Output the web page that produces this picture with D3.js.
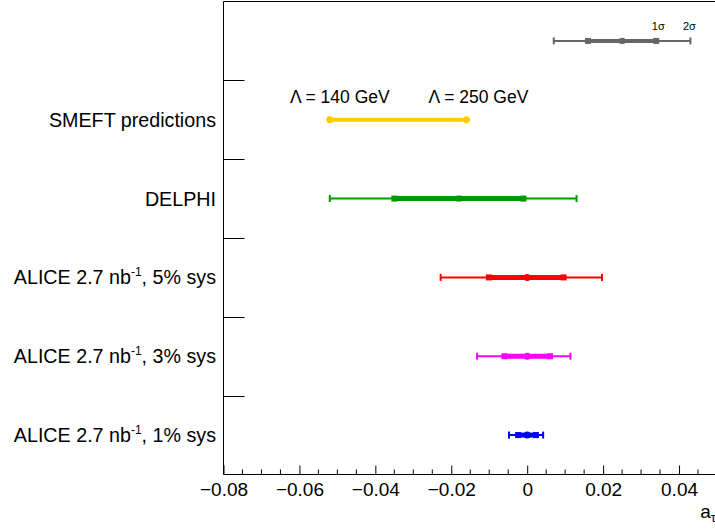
<!DOCTYPE html>
<html><head><meta charset="utf-8">
<script src="https://cdn.jsdelivr.net/npm/d3@7"></script>
<style>html,body{margin:0;padding:0;background:#fff;}svg{display:block;}svg text{font-family:"Liberation Sans",Arial,Helvetica,sans-serif;}</style>
</head><body>
<svg id="c" width="715" height="530"></svg>
<script>
// ---- data ----
const rows = ["legend", "SMEFT", "DELPHI", "ALICE5", "ALICE3", "ALICE1"];
const labelMain = ["", "SMEFT predictions", "DELPHI", "ALICE 2.7 nb", "ALICE 2.7 nb", "ALICE 2.7 nb"];
const labelSup = ["", "", "", "-1", "-1", "-1"];
const labelTail = ["", "", "", ", 5% sys", ", 3% sys", ", 1% sys"];
const central = [0.025, null, -0.018, 0.0, 0.0, 0.0];
const lo1 = [0.016, null, -0.035, -0.0101, -0.006, -0.0024];
const hi1 = [0.034, null, -0.001, 0.0096, 0.006, 0.0023];
const lo2 = [0.007, null, -0.052, -0.0228, -0.0132, -0.0048];
const hi2 = [0.043, null, 0.013, 0.0197, 0.0114, 0.0042];
const colors = ["#666666", "#ffcc00", "#009900", "#ff0000", "#ff00ff", "#0000ff"];
const smeftRange = [-0.052, -0.016];
const smeftLabels = ["\u039B = 140 GeV", "\u039B = 250 GeV"];
const legendLabels = ["1\u03C3", "2\u03C3"];
const xTicks = [-0.08, -0.06, -0.04, -0.02, 0, 0.02, 0.04];
const xTickLabels = ["\u22120.08", "\u22120.06", "\u22120.04", "\u22120.02", "0", "0.02", "0.04"];
const xTitle = "a";
const xTitleSub = "\u03C4";

// ---- layout ----
const FONT = '"Liberation Sans", Arial, Helvetica, sans-serif';
const svg = d3.select("#c");
const padL = 223.5, padB = 474.5, padT = 1.5, padR = 717;
const x = d3.scaleLinear().domain([-0.08, 0.05]).range([padL, padR]);
const y = d3.scaleBand().domain(rows).range([padT, padB]).padding(0);
const yc = r => y(r) + y.bandwidth() / 2;

// frame
svg.append("line").attr("x1", padL).attr("x2", padL).attr("y1", padT).attr("y2", padB).attr("stroke", "#000").attr("stroke-width", 1);
svg.append("line").attr("x1", padL).attr("x2", 715).attr("y1", padT).attr("y2", padT).attr("stroke", "#000").attr("stroke-width", 1);

// x axis with ticks pointing inward
const xAxis = d3.axisBottom(x).tickValues(xTicks).tickSizeInner(-9).tickSizeOuter(0)
  .tickFormat((d, i) => xTickLabels[i]);
const gx = svg.append("g").attr("transform", `translate(0,${padB})`).call(xAxis);
gx.attr("font-family", FONT).attr("font-size", 19);
gx.select(".domain").attr("stroke", "#000").attr("d", `M${padL},0H715`);
gx.selectAll(".tick line").attr("stroke", "#000");
gx.selectAll(".tick text").attr("fill", "#000").attr("dy", null).attr("y", 21);
// minor ticks
const minor = d3.range(-0.08, 0.0501, 0.005).filter(v => !xTicks.some(t => Math.abs(t - v) < 1e-9));
svg.append("g").selectAll("line").data(minor).join("line")
  .attr("x1", d => x(d)).attr("x2", d => x(d)).attr("y1", padB).attr("y2", padB - 5)
  .attr("stroke", "#000").attr("stroke-width", 1);

// x title
const tt = svg.append("text").attr("x", 716).attr("y", 518).attr("text-anchor", "end").attr("font-family", FONT).attr("font-size", 19).attr("fill", "#000");
tt.append("tspan").text(xTitle);
tt.append("tspan").attr("font-size", 13).attr("dy", 4).text(xTitleSub);

// y ticks at band boundaries
const bounds = rows.slice(1).map(r => y(r));
svg.append("g").selectAll("line").data(bounds).join("line")
  .attr("x1", padL).attr("x2", padL + 21).attr("y1", d => Math.round(d) + 0.5).attr("y2", d => Math.round(d) + 0.5)
  .attr("stroke", "#000").attr("stroke-width", 1);

// y labels
rows.forEach((r, i) => {
  if (!labelMain[i]) return;
  const t = svg.append("text").attr("x", 216).attr("y", yc(r) + 7).attr("text-anchor", "end")
    .attr("font-family", FONT).attr("font-size", 19.7).attr("fill", "#000");
  t.append("tspan").text(labelMain[i]);
  if (labelSup[i]) {
    t.append("tspan").attr("font-size", 12).attr("dy", -8).text(labelSup[i]);
    t.append("tspan").attr("dy", 8).text(labelTail[i]);
  }
});

// error bars
rows.forEach((r, i) => {
  if (central[i] === null) return;
  const cy = yc(r), col = colors[i];
  const g = svg.append("g");
  const thin = 2, thick = i === 0 ? 4 : 5, sq = 6;
  g.append("line").attr("x1", x(lo2[i])).attr("x2", x(hi2[i])).attr("y1", cy).attr("y2", cy).attr("stroke", col).attr("stroke-width", thin);
  [lo2[i], hi2[i]].forEach(v => g.append("line").attr("x1", x(v)).attr("x2", x(v)).attr("y1", cy - 3.5).attr("y2", cy + 3.5).attr("stroke", col).attr("stroke-width", 2));
  g.append("line").attr("x1", x(lo1[i])).attr("x2", x(hi1[i])).attr("y1", cy).attr("y2", cy).attr("stroke", col).attr("stroke-width", thick);
  [lo1[i], hi1[i]].forEach(v => g.append("rect").attr("x", x(v) - sq / 2).attr("y", cy - sq / 2).attr("width", sq).attr("height", sq).attr("fill", col));
  if (i === 0 || i === 2) {
    g.append("rect").attr("x", x(central[i]) - 2.5).attr("y", cy - 3).attr("width", 5).attr("height", 6).attr("fill", col);
  } else {
    g.append("circle").attr("cx", x(central[i])).attr("cy", cy).attr("r", 3.5).attr("fill", col);
  }
});

// legend labels
const lc = yc("legend");
[hi1[0], hi2[0]].forEach((v, k) => {
  svg.append("text").attr("x", x(v) + (k === 0 ? 2 : -1)).attr("y", lc - 11).attr("text-anchor", "middle")
    .attr("font-family", FONT).attr("font-size", 11).attr("fill", "#000").text(legendLabels[k]);
});

// SMEFT band
const sc = yc("SMEFT"), scol = colors[1];
svg.append("line").attr("x1", x(smeftRange[0])).attr("x2", x(smeftRange[1])).attr("y1", sc).attr("y2", sc)
  .attr("stroke", scol).attr("stroke-width", 4);
smeftRange.forEach(v => svg.append("circle").attr("cx", x(v)).attr("cy", sc).attr("r", 3.5).attr("fill", scol));
smeftRange.forEach((v, k) => svg.append("text").attr("x", x(v) + (k === 0 ? 10 : 12)).attr("y", sc - 17)
  .attr("text-anchor", "middle").attr("font-family", FONT).attr("font-size", 17.5).attr("fill", "#000").text(smeftLabels[k]));
</script>
</body></html>
